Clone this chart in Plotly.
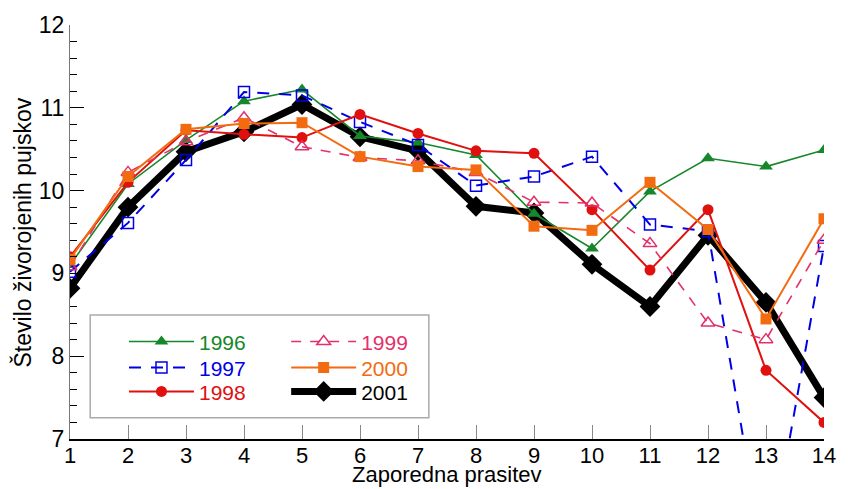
import plotly.graph_objects as go

parities = list(range(1, 15))
y1996 = [9.10, 10.08, 10.61, 11.08, 11.22, 10.66, 10.58, 10.43, 9.72, 9.30, 9.99, 10.39, 10.29, 10.49]
y1997 = [9.02, 9.61, 10.37, 11.19, 11.15, 10.83, 10.55, 10.06, 10.17, 10.41, 9.59, 9.51, 5.40, 9.33]
y1998 = [9.20, 10.10, 10.73, 10.68, 10.64, 10.92, 10.69, 10.48, 10.45, 9.77, 9.04, 9.77, 7.83, 7.20]
y1999 = [9.08, 10.22, 10.59, 10.88, 10.53, 10.40, 10.36, 10.22, 9.86, 9.85, 9.36, 8.40, 8.20, 9.40]
y2000 = [9.17, 10.17, 10.74, 10.81, 10.82, 10.41, 10.29, 10.25, 9.57, 9.52, 10.10, 9.53, 8.45, 9.66]
y2001 = [8.82, 9.80, 10.47, 10.71, 11.04, 10.65, 10.48, 9.81, 9.73, 9.11, 8.60, 9.46, 8.65, 7.50]
y_ticks = [7, 8, 9, 10, 11, 12]

FONT = "Liberation Sans, Arial, Helvetica, sans-serif"

C96 = "#16872a"
C97 = "#0000e6"
C98 = "#e0100f"
C99 = "#e3306a"
C00 = "#f26b10"
C01 = "#000000"

def lab(txt, col):
    return f'<span style="color:{col}">{txt}</span>'

fig = go.Figure()

fig.add_trace(go.Scatter(x=parities, y=y2001, mode="lines+markers", name=lab("2001", C01),
                         legend="legend6",
                         line=dict(color=C01, width=7),
                         marker=dict(symbol="diamond", size=16, color=C01)))
fig.add_trace(go.Scatter(x=parities, y=y1996, mode="lines+markers", name=lab("1996", C96),
                         legend="legend",
                         line=dict(color=C96, width=1.6),
                         marker=dict(symbol="triangle-up", size=12, color=C96)))
fig.add_trace(go.Scatter(x=parities, y=y1997, mode="lines+markers", name=lab("1997", C97),
                         legend="legend2",
                         line=dict(color=C97, width=2, dash="12px,10px"),
                         marker=dict(symbol="square-open", size=11, color=C97, line=dict(width=1.5))))
fig.add_trace(go.Scatter(x=parities, y=y1998, mode="lines+markers", name=lab("1998", C98),
                         legend="legend3",
                         line=dict(color=C98, width=2),
                         marker=dict(symbol="circle", size=11, color=C98)))
fig.add_trace(go.Scatter(x=parities, y=y1999, mode="lines+markers", name=lab("1999", C99),
                         legend="legend4",
                         line=dict(color=C99, width=1.6, dash="10px,9px"),
                         marker=dict(symbol="triangle-up-open", size=12, color=C99, line=dict(width=1.5))))
fig.add_trace(go.Scatter(x=parities, y=y2000, mode="lines+markers", name=lab("2000", C00),
                         legend="legend5",
                         line=dict(color=C00, width=2),
                         marker=dict(symbol="square", size=11, color=C00)))

leg_common = dict(bgcolor="rgba(0,0,0,0)", borderwidth=0, font=dict(family=FONT, size=21),
                  xanchor="left", yanchor="middle", tracegroupgap=0, itemwidth=65)

col1_x, col2_x = 0.0716, 0.2867
row_y = [0.2345, 0.1718, 0.114]

fig.update_layout(
    width=848, height=489, autosize=False,
    margin=dict(l=70, r=20, t=24, b=50),
    paper_bgcolor="white", plot_bgcolor="white",
    font=dict(family=FONT, size=23, color="black"),
    showlegend=True,
    legend=dict(x=col1_x, y=row_y[0], **leg_common),
    legend2=dict(x=col1_x, y=row_y[1], **leg_common),
    legend3=dict(x=col1_x, y=row_y[2], **leg_common),
    legend4=dict(x=col2_x, y=row_y[0], **leg_common),
    legend5=dict(x=col2_x, y=row_y[1], **leg_common),
    legend6=dict(x=col2_x, y=row_y[2], **leg_common),
    xaxis=dict(range=[1, 14], tickmode="array", tickvals=parities,
               ticks="inside", ticklen=14, tickwidth=1, tickcolor="#888888",
               showline=True, linecolor="black", linewidth=1.5,
               showgrid=False, zeroline=False, mirror=False,
               ticklabelstandoff=-4,
               tickfont=dict(size=22, family=FONT)),
    yaxis=dict(range=[7, 12], tickmode="array", tickvals=y_ticks,
               ticks="inside", ticklen=14, tickwidth=1, tickcolor="black",
               showline=True, linecolor="#777777", linewidth=1,
               showgrid=False, zeroline=False, mirror=False,
               minor=dict(dtick=0.2, ticks="inside", ticklen=7, tickcolor="black", showgrid=False),
               tickfont=dict(size=23, family=FONT)),
    shapes=[dict(type="rect", xref="paper", yref="paper",
                 x0=0.0268, x1=0.4759, y0=0.0513, y1=0.2995,
                 line=dict(color="#aaaaaa", width=1.5), fillcolor="white", layer="above")],
    annotations=[
        dict(text="Zaporedna prasitev", xref="paper", yref="paper", x=0.5, y=-0.085,
             xanchor="center", yanchor="middle", showarrow=False,
             font=dict(size=22, family=FONT)),
        dict(text="Število živorojenih pujskov", xref="paper", yref="paper", x=-0.063, y=0.5,
             xanchor="center", yanchor="middle", textangle=-90, showarrow=False,
             font=dict(size=23, family=FONT)),
    ],
)

fig.write_html("out.html", config={"displayModeBar": False},
               post_script="document.body.style.margin='0';document.body.style.padding='0';")
